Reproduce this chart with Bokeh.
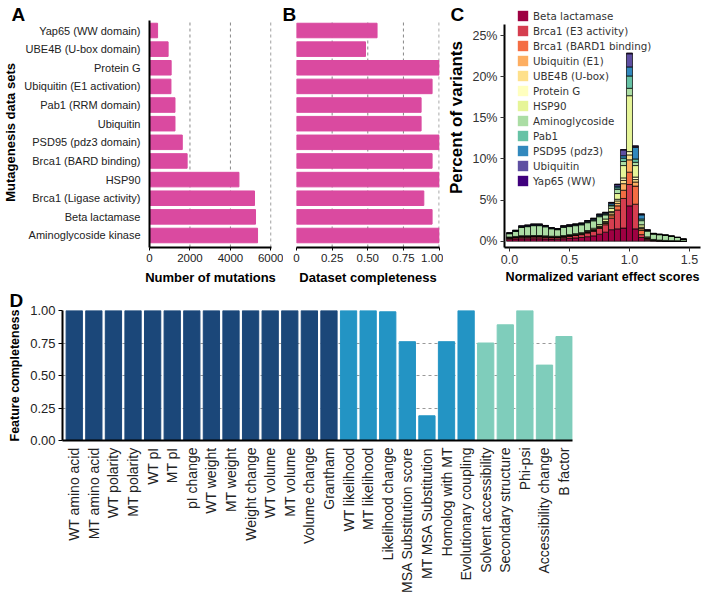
from math import pi, nan
from bokeh.plotting import figure
from bokeh.layouts import column, row
from bokeh.models import Range1d, FixedTicker, Legend, LegendItem, ColumnDataSource, Title
from bokeh.embed import file_html
from bokeh.resources import INLINE

SANS = "Liberation Sans"
GG = "DejaVu Sans"
PINK = "#DA4AA0"
NBSP = "\u00a0"

# ---------------- Panel A / B data ----------------
datasets = ["Yap65 (WW domain)", "UBE4B (U-box domain)", "Protein G", "Ubiquitin (E1 activation)",
            "Pab1 (RRM domain)", "Ubiquitin", "PSD95 (pdz3 domain)", "Brca1 (BARD binding)",
            "HSP90", "Brca1 (Ligase activity)", "Beta lactamase", "Aminoglycoside kinase"]
n_mutations = [400, 920, 1070, 1060, 1260, 1260, 1620, 1860, 4420, 5190, 5240, 5340]
completeness = [0.565, 0.484, 1.0, 0.951, 0.874, 0.874, 1.0, 0.951, 1.0, 0.893, 0.951, 1.0]
mut_ticks = [0, 2000, 4000, 6000]
comp_ticks = [0.0, 0.25, 0.5, 0.75, 1.0]
comp_tick_labels = ["0", "0.25", "0.50", "0.75", "1.00"]

# ---------------- Panel C data ----------------
bin_centers = [0.00, 0.05, 0.10, 0.15, 0.20, 0.25, 0.30, 0.35, 0.40, 0.45,
               0.50, 0.55, 0.60, 0.65, 0.70, 0.75, 0.80, 0.85, 0.90, 0.95,
               1.00, 1.05, 1.10, 1.15, 1.20, 1.25, 1.30, 1.35, 1.40, 1.45]
beta_lactamase = [0.25, 0.28, 0.3, 0.3, 0.3, 0.3, 0.28, 0.26, 0.25, 0.3, 0.35, 0.4, 0.45, 0.55, 0.65, 0.85, 1.1, 1.4, 1.5, 1.6, 4.3, 1.5, 0.45, 0.12, 0.05, 0.03, 0.02, 0.02, 0.01, 0.01]
brca1_e3 = [0.12, 0.15, 0.2, 0.2, 0.22, 0.22, 0.2, 0.18, 0.18, 0.2, 0.25, 0.3, 0.35, 0.45, 0.55, 0.7, 0.9, 1.4, 2.3, 3.6, 2.6, 3.0, 0.35, 0.1, 0.03, 0.02, 0.01, 0.01, 0.01, 0.0]
brca1_bard1 = [0.03, 0.03, 0.04, 0.04, 0.04, 0.04, 0.04, 0.04, 0.04, 0.04, 0.04, 0.05, 0.05, 0.06, 0.08, 0.1, 0.15, 0.3, 0.5, 1.0, 1.5, 2.2, 0.5, 0.1, 0.03, 0.02, 0.01, 0.01, 0.01, 0.0]
ubiquitin_e1 = [0.03, 0.03, 0.03, 0.03, 0.03, 0.03, 0.03, 0.03, 0.03, 0.03, 0.04, 0.04, 0.05, 0.06, 0.07, 0.08, 0.1, 0.2, 0.3, 0.8, 1.5, 0.5, 0.2, 0.05, 0.02, 0.01, 0.01, 0.01, 0.0, 0.0]
ube4b = [0.02, 0.02, 0.03, 0.03, 0.03, 0.03, 0.03, 0.03, 0.03, 0.03, 0.03, 0.03, 0.03, 0.04, 0.04, 0.05, 0.1, 0.2, 0.3, 0.4, 0.6, 0.3, 0.1, 0.03, 0.02, 0.01, 0.01, 0.0, 0.0, 0.0]
protein_g = [0.02, 0.02, 0.02, 0.02, 0.02, 0.02, 0.02, 0.02, 0.02, 0.02, 0.03, 0.03, 0.03, 0.04, 0.04, 0.05, 0.05, 0.1, 0.2, 0.3, 0.4, 0.3, 0.1, 0.03, 0.02, 0.01, 0.01, 0.0, 0.0, 0.0]
hsp90 = [0.04, 0.05, 0.05, 0.05, 0.05, 0.05, 0.05, 0.05, 0.05, 0.06, 0.06, 0.07, 0.08, 0.1, 0.15, 0.2, 0.3, 0.4, 0.7, 1.5, 6.8, 1.4, 0.3, 0.1, 0.05, 0.04, 0.03, 0.02, 0.02, 0.01]
aminoglycoside = [0.4, 0.6, 1.0, 1.1, 1.2, 1.2, 1.1, 0.9, 0.8, 1.0, 0.98, 0.97, 0.95, 0.95, 0.9, 0.95, 0.5, 0.3, 0.5, 0.5, 0.9, 0.4, 0.5, 0.7, 0.65, 0.65, 0.6, 0.52, 0.4, 0.22]
pab1 = [0.03, 0.04, 0.05, 0.05, 0.05, 0.05, 0.04, 0.04, 0.04, 0.06, 0.07, 0.07, 0.07, 0.08, 0.1, 0.1, 0.1, 0.1, 0.2, 0.4, 1.5, 0.4, 0.2, 0.05, 0.03, 0.02, 0.02, 0.01, 0.01, 0.0]
psd95 = [0.03, 0.04, 0.05, 0.05, 0.05, 0.05, 0.04, 0.04, 0.04, 0.06, 0.07, 0.07, 0.07, 0.08, 0.1, 0.1, 0.1, 0.2, 0.2, 0.3, 1.1, 1.4, 0.5, 0.05, 0.03, 0.02, 0.01, 0.01, 0.0, 0.0]
ubiquitin = [0.05, 0.06, 0.08, 0.08, 0.08, 0.08, 0.07, 0.05, 0.05, 0.07, 0.06, 0.06, 0.07, 0.09, 0.1, 0.1, 0.1, 0.1, 0.2, 0.7, 1.6, 0.15, 0.1, 0.04, 0.02, 0.01, 0.01, 0.0, 0.0, 0.0]
yap65 = [0.01, 0.01, 0.02, 0.02, 0.03, 0.03, 0.02, 0.01, 0.01, 0.01, 0.01, 0.01, 0.01, 0.01, 0.01, 0.02, 0.02, 0.03, 0.05, 0.05, 0.1, 0.05, 0.02, 0.01, 0.0, 0.0, 0.0, 0.0, 0.0, 0.0]
series_labels = ["Beta lactamase", "Brca1 (E3 activity)", "Brca1 (BARD1 binding)", "Ubiquitin (E1)",
                 "UBE4B (U-box)", "Protein G", "HSP90", "Aminoglycoside", "Pab1", "PSD95 (pdz3)",
                 "Ubiquitin", "Yap65 (WW)"]
series_values = [beta_lactamase, brca1_e3, brca1_bard1, ubiquitin_e1, ube4b, protein_g, hsp90,
                 aminoglycoside, pab1, psd95, ubiquitin, yap65]
series_colors = ["#9E0142", "#D53E4F", "#F46D43", "#FDAE61", "#FEE08B", "#FFFFBF", "#E6F598",
                 "#ABDDA4", "#66C2A5", "#3288BD", "#5E4FA2", "#3F007D"]
pct_ticks = [0, 5, 10, 15, 20, 25]
score_ticks = [0.0, 0.5, 1.0, 1.5]

# ---------------- Panel D data ----------------
features = ["WT amino acid", "MT amino acid", "WT polarity", "MT polarity", "WT pI", "MT pI",
            "pI change", "WT weight", "MT weight", "Weight change", "WT volume", "MT volume",
            "Volume change", "Grantham", "WT likelihood", "MT likelihood", "Likelihood change",
            "MSA Substitution score", "MT MSA Substitution", "Homolog with MT", "Evolutionary coupling",
            "Solvent accessibility", "Secondary structure", "Phi-psi", "Accessibility change", "B factor"]
feature_completeness = [1.0, 1.0, 1.0, 1.0, 1.0, 1.0, 1.0, 1.0, 1.0, 1.0, 1.0, 1.0, 1.0, 1.0,
                        1.0, 1.0, 0.99, 0.76, 0.19, 0.76, 1.0,
                        0.75, 0.89, 1.0, 0.58, 0.80]
feature_group = [0] * 14 + [1] * 7 + [2] * 5
group_colors = ["#1B4779", "#2394C4", "#7FCDBB"]
feat_ticks = [0.0, 0.25, 0.5, 0.75, 1.0]
feat_tick_labels = ["0.00", "0.25", "0.50", "0.75", "1.00"]


def base_axis(ax, size):
    ax.axis_line_width = 2
    ax.axis_line_color = "black"
    ax.major_label_text_font = SANS
    ax.major_label_text_font_size = size
    ax.major_label_text_color = "#222222"
    ax.axis_label_text_font = SANS
    ax.axis_label_text_font_style = "bold"
    ax.axis_label_text_color = "black"
    ax.minor_tick_line_color = None
    ax.major_tick_line_color = "black"
    ax.major_tick_in = 0


def letter(p, txt, offset, standoff):
    p.add_layout(Title(text=txt, align="left", offset=offset, standoff=standoff,
                       text_font=SANS, text_font_size="19px", text_font_style="bold",
                       text_color="black"), "above")


ROW_H = 287
TOP = 6
BOTTOM = 40
ypos = [len(datasets) - i for i in range(len(datasets))]
y_rng = (0.356, 13.288)
y_axis_top = 12.54

# ---------------- A ----------------
pA = figure(width=283, height=ROW_H, x_range=Range1d(0, 6030), y_range=Range1d(*y_rng),
            min_border_left=147, min_border_right=12, min_border_top=TOP, min_border_bottom=BOTTOM,
            output_backend="svg", toolbar_location=None)
pA.segment(x0=mut_ticks[1:], x1=mut_ticks[1:], y0=y_rng[0], y1=y_axis_top,
           line_color="#888888", line_width=1, line_dash="3 3", level="underlay")
pA.hbar(y=ypos, right=n_mutations, left=0, height=0.78, color=PINK)
base_axis(pA.xaxis[0], "11.5px")
base_axis(pA.yaxis[0], "11px")
pA.xaxis.ticker = FixedTicker(ticks=mut_ticks)
pA.xaxis.major_tick_out = 3
pA.xaxis.major_label_standoff = 3
pA.xaxis.axis_label = "Number of mutations"
pA.xaxis.axis_label_text_font_size = "13px"
pA.xaxis.axis_label_standoff = 5
pA.yaxis.bounds = (y_rng[0], y_axis_top)
pA.yaxis.ticker = FixedTicker(ticks=ypos)
pA.yaxis.major_label_overrides = {y: n for y, n in zip(ypos, datasets)}
pA.yaxis.major_tick_line_color = None
pA.yaxis.major_tick_out = 0
pA.yaxis.major_label_standoff = 9
pA.yaxis.axis_label = "Mutagenesis data sets" + NBSP * 3
pA.yaxis.axis_label_text_font_size = "13px"
pA.yaxis.axis_label_standoff = 3
pA.grid.visible = False
pA.outline_line_color = None
letter(pA, "A", -138, -36)

# ---------------- B ----------------
pB = figure(width=160, height=ROW_H, x_range=Range1d(0, 1.003), y_range=Range1d(*y_rng),
            min_border_left=13, min_border_right=4, min_border_top=TOP, min_border_bottom=BOTTOM,
            output_backend="svg", toolbar_location=None)
pB.segment(x0=comp_ticks[1:], x1=comp_ticks[1:], y0=y_rng[0], y1=y_axis_top,
           line_color="#888888", line_width=1, line_dash="3 3", level="underlay")
pB.hbar(y=ypos, right=completeness, left=0, height=0.78, color=PINK)
base_axis(pB.xaxis[0], "11.5px")
pB.yaxis.visible = False
pB.xaxis.ticker = FixedTicker(ticks=comp_ticks)
pB.xaxis.major_label_overrides = {t: l for t, l in zip(comp_ticks, comp_tick_labels)}
pB.xaxis.major_tick_out = 3
pB.xaxis.major_label_standoff = 3
pB.xaxis.axis_label = "Dataset completeness"
pB.xaxis.axis_label_text_font_size = "13px"
pB.xaxis.axis_label_standoff = 5
pB.grid.visible = False
pB.outline_line_color = None
letter(pB, "B", -14, -36)

# ---------------- C ----------------
cdata = {"x": bin_centers}
for lab, vals in zip(series_labels, series_values):
    cdata[lab] = vals
src = ColumnDataSource(cdata)
pC = figure(width=261, height=ROW_H, x_range=Range1d(-0.042, 1.592), y_range=Range1d(-0.766, 28.55),
            min_border_left=61, min_border_right=4, min_border_top=TOP, min_border_bottom=BOTTOM,
            output_backend="svg", toolbar_location=None)
pC.vbar_stack(stackers=series_labels, x="x", width=0.05, color=series_colors, source=src,
              line_color="black", line_width=0.7)
items = []
for lab, col in zip(series_labels, series_colors):
    r = pC.vbar(x=[nan], top=[nan], width=0.05, fill_color=col, line_color=None)
    items.append(LegendItem(label=lab, renderers=[r]))
leg = Legend(items=items, location=(12, 60), glyph_height=13, glyph_width=13, label_height=13,
             spacing=2, padding=0, margin=0, border_line_color=None, background_fill_alpha=0,
             label_standoff=4, label_text_font=GG, label_text_font_size="10.3px",
             label_text_color="#333333")
pC.add_layout(leg)
for ax in (pC.xaxis[0], pC.yaxis[0]):
    base_axis(ax, "12.5px")
    ax.major_tick_out = 4
    ax.major_tick_line_color = "#333333"
    ax.major_label_text_color = "#333333"
pC.yaxis.bounds = (-0.766, 26.3)
pC.yaxis.ticker = FixedTicker(ticks=pct_ticks)
pC.yaxis.major_label_overrides = {t: f"{t}%" for t in pct_ticks}
pC.yaxis.axis_label = NBSP * 4 + "Percent of variants"
pC.yaxis.axis_label_text_font_size = "17px"
pC.yaxis.axis_label_standoff = 3
pC.yaxis.major_label_standoff = 3
pC.xaxis.ticker = FixedTicker(ticks=score_ticks)
pC.xaxis.major_label_overrides = {t: f"{t:.1f}" for t in score_ticks}
pC.xaxis.axis_label = "Normalized variant effect scores"
pC.xaxis.axis_label_text_font_size = "12.6px"
pC.xaxis.axis_label_standoff = 3
pC.xaxis.major_label_standoff = 3
pC.grid.visible = False
pC.outline_line_color = None
letter(pC, "C", -54, -36)

# ---------------- D ----------------
xs = list(range(len(features)))
pD = figure(width=704, height=314, x_range=Range1d(-0.6, 25.43), y_range=Range1d(0, 1.0),
            min_border_left=62, min_border_right=132, min_border_top=23, min_border_bottom=161,
            output_backend="svg", toolbar_location=None)
pD.vbar(x=xs, top=feature_completeness, width=0.83, color=[group_colors[g] for g in feature_group])
base_axis(pD.xaxis[0], "14px")
base_axis(pD.yaxis[0], "13px")
pD.xaxis.ticker = FixedTicker(ticks=xs)
pD.xaxis.major_label_overrides = {x: f for x, f in zip(xs, features)}
pD.xaxis.major_label_orientation = pi / 2
pD.xaxis.major_tick_line_color = None
pD.xaxis.major_tick_out = 0
pD.xaxis.major_label_standoff = 7
pD.yaxis.ticker = FixedTicker(ticks=feat_ticks)
pD.yaxis.major_label_overrides = {t: l for t, l in zip(feat_ticks, feat_tick_labels)}
pD.yaxis.major_tick_out = 4
pD.yaxis.major_label_standoff = 3
pD.yaxis.axis_label = "Feature completeness"
pD.yaxis.axis_label_text_font_size = "12.5px"
pD.yaxis.axis_label_standoff = 5
pD.ygrid.ticker = FixedTicker(ticks=feat_ticks[1:])
pD.ygrid.grid_line_dash = "3 3"
pD.ygrid.grid_line_color = "#999999"
pD.xgrid.visible = False
pD.outline_line_color = None
letter(pD, "D", -53, -1)

layout = column(row(pA, pB, pC), pD)
open("out.html", "w").write(file_html(layout, INLINE))
